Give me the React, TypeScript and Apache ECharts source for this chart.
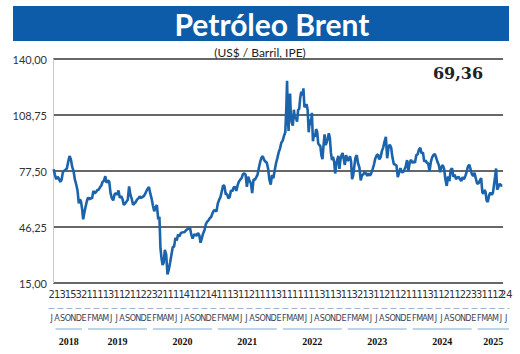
import React, { useEffect, useRef } from 'react';
import * as echarts from 'echarts';

// ---------- data ----------
const years = ['2018', '2019', '2020', '2021', '2022', '2023', '2024', '2025'];
const monthInitials = ['E', 'F', 'M', 'A', 'M', 'J', 'J', 'A', 'S', 'O', 'N', 'D'];
const firstMonth = 6; // July 2018
const lastMonth = 6; // July 2025
const dayDigits = [
  ...('2131532111131121122321111411214111311211' + '11311111113113113213112112111131121122331112').split(''),
  '24',
];
const yTicks = [15, 46.25, 77.5, 108.75, 140];
const title = 'Petróleo Brent';
const subtitle = '(US$ / Barril, IPE)';

// weekly-ish Brent closes, one inner array per month
const brent2018 = [
  [78.5, 75.2, 72.9, 74.3],
  [73.2, 71.4, 72.6, 77.0],
  [77.6, 78.2, 79.0, 82.7],
  [85.9, 84.1, 79.8, 77.6],
  [72.8, 70.1, 66.8, 59.5],
  [61.7, 60.3, 56.3, 50.5, 53.8],
];
const brent2019 = [
  [57.1, 60.5, 62.7, 61.6],
  [62.5, 62.1, 66.4, 65.0],
  [65.7, 66.9, 67.1, 68.4],
  [69.4, 71.5, 72.0, 74.6],
  [70.9, 72.3, 71.5, 65.0],
  [62.3, 61.1, 64.4, 65.2],
  [64.2, 66.7, 62.5, 63.5],
  [61.9, 58.6, 59.3, 60.4],
  [61.5, 68.9, 64.2, 61.9],
  [58.7, 59.4, 60.2, 61.5],
  [62.2, 63.3, 62.4, 63.0],
  [63.4, 64.5, 66.2, 67.6],
];
const brent2020 = [
  [68.6, 65.0, 62.1, 58.2],
  [55.0, 57.3, 58.5, 50.5],
  [51.9, 34.4, 28.7, 25.0, 26.3],
  [33.5, 31.0, 19.8, 22.5],
  [26.4, 30.9, 35.1, 35.3],
  [40.2, 38.7, 42.1, 41.0],
  [42.8, 43.2, 43.3, 43.5],
  [44.4, 45.0, 45.4, 45.8],
  [42.0, 39.8, 41.9, 42.1],
  [41.3, 42.9, 41.8, 37.5],
  [40.1, 42.8, 44.6, 47.9],
  [49.2, 50.0, 51.2, 51.8],
];
const brent2021 = [
  [53.9, 55.4, 55.6, 54.9],
  [59.3, 61.4, 62.9, 66.1],
  [69.4, 69.2, 64.5, 64.6],
  [62.2, 63.0, 66.8, 66.2],
  [68.3, 68.7, 66.4, 69.6],
  [71.6, 72.7, 73.5, 75.8],
  [76.2, 75.5, 68.6, 74.3],
  [72.0, 70.6, 65.2, 72.7],
  [72.6, 73.9, 75.3, 79.1],
  [82.4, 84.9, 85.8, 83.7],
  [82.7, 82.2, 78.9, 72.7],
  [69.9, 75.2, 73.5, 77.8],
];
const brent2022 = [
  [81.8, 84.7, 87.9, 90.0],
  [93.3, 94.4, 97.0, 99.1],
  [112.9, 127.9, 107.0, 99.9, 117.6, 120.7, 107.9],
  [104.4, 102.8, 111.7, 106.6, 107.1],
  [105.0, 111.6, 112.0, 118.4, 121.7],
  [119.7, 123.6, 113.1, 114.0, 114.8],
  [111.6, 99.1, 106.3, 103.2, 110.0],
  [94.1, 98.1, 96.7, 100.9, 99.3],
  [92.8, 92.0, 91.4, 86.2, 84.1],
  [91.8, 97.9, 92.0, 93.5, 95.8],
  [98.6, 95.9, 87.6, 83.6, 85.4],
  [82.7, 76.1, 81.0, 83.9, 85.9],
];
const brent2023 = [
  [78.7, 83.9, 86.2, 87.5, 84.5],
  [80.9, 86.4, 83.2, 83.9],
  [85.8, 82.8, 72.9, 75.0, 79.8],
  [84.9, 86.3, 81.7, 79.5],
  [72.3, 75.2, 75.6, 77.1],
  [76.1, 74.8, 76.1, 74.9],
  [76.3, 78.5, 81.1, 84.4],
  [86.2, 86.8, 84.0, 85.1],
  [88.6, 90.7, 93.9, 96.5],
  [84.6, 90.9, 92.2, 90.5],
  [85.0, 81.4, 81.0, 80.6],
  [74.1, 76.6, 79.1, 77.0],
];
const brent2024 = [
  [76.8, 78.3, 80.0, 83.6],
  [77.3, 82.2, 83.7, 82.0],
  [82.9, 82.1, 86.4, 86.8],
  [89.4, 90.5, 87.3, 87.9],
  [82.8, 83.4, 82.1, 81.6],
  [77.5, 82.6, 85.2, 86.4],
  [87.0, 85.0, 82.6, 80.9],
  [76.8, 79.7, 80.8, 78.8],
  [72.7, 69.2, 74.5, 71.8],
  [78.1, 79.0, 74.3, 75.5],
  [73.0, 73.9, 74.2, 72.9],
  [71.9, 74.0, 72.9, 74.6],
];
const brent2025 = [
  [76.9, 80.0, 81.0, 78.5],
  [75.7, 74.7, 76.5, 73.2],
  [70.4, 70.6, 72.2, 73.6],
  [65.6, 64.9, 66.9, 65.9, 61.1],
  [60.2, 64.0, 65.4, 64.2],
  [65.3, 69.8, 74.2, 78.9, 67.1],
  [68.5, 70.4, 69.4, 69.36],
];
const brentByYear = [brent2018, brent2019, brent2020, brent2021, brent2022, brent2023, brent2024, brent2025];

// ---------- derived ----------
const monthLabels: string[] = [];
const yearSpans: { start: number; count: number }[] = [];
years.forEach((_, yi) => {
  const s = yi === 0 ? firstMonth : 0;
  const e = yi === years.length - 1 ? lastMonth : 11;
  yearSpans.push({ start: monthLabels.length, count: e - s + 1 });
  for (let m = s; m <= e; m++) monthLabels.push(monthInitials[m]);
});
const totalMonths = monthLabels.length;
const monthKeys = monthLabels.map((_, i) => 'm' + i);

const lineData: [number, number][] = [];
let mi = 0;
brentByYear.forEach((yr) => {
  yr.forEach((month) => {
    month.forEach((v, k) => lineData.push([mi + (k + 0.5) / month.length, v]));
    mi++;
  });
});
const lastValue = lineData[lineData.length - 1][1];

const segs = yearSpans.map((s) => [s.start + 1.2, Math.min(s.start + s.count + 0.1, totalMonths)]);
const yearCenters = segs.map((s) => (s[0] + s[1]) / 2);

const fmt = (v: number) => v.toFixed(2).replace('.', ',');
const narrow = '"Liberation Sans Narrow", "DejaVu Sans Condensed", sans-serif';

const option: any = {
  animation: false,
  backgroundColor: '#ffffff',
  graphic: [
    { type: 'rect', shape: { x: 13, y: 6, width: 496, height: 35 }, style: { fill: '#0d5ca9' }, silent: true },
    {
      type: 'text',
      style: { text: title, x: 272, y: 24, fill: '#ffffff', font: 'bold 30px Lato', textAlign: 'center', textVerticalAlign: 'middle' },
    },
    {
      type: 'text',
      style: { text: subtitle, x: 260, y: 52, fill: '#222', font: '12px Lato', textAlign: 'center', textVerticalAlign: 'middle' },
    },
    {
      type: 'text',
      style: { text: fmt(lastValue), x: 458, y: 73, fill: '#222', font: 'bold 16px "DejaVu Serif"', textAlign: 'center', textVerticalAlign: 'middle' },
    },
  ],
  grid: [
    { left: 53, right: 17, top: 59, height: 224 },
    { left: 49, right: 11, top: 284, height: 1 },
    { left: 49, right: 11, top: 328, height: 2 },
  ],
  xAxis: [
    {
      type: 'value', gridIndex: 0, min: 0, max: totalMonths,
      axisLabel: { show: false }, axisTick: { show: false }, axisLine: { show: false }, splitLine: { show: false },
    },
    {
      type: 'category', gridIndex: 1, position: 'bottom', offset: 0, data: monthKeys, boundaryGap: true,
      axisLine: { show: false }, axisTick: { show: false },
      axisLabel: {
        interval: 0, margin: 4, fontSize: 11, color: '#333', fontFamily: narrow,
        formatter: (_: string, i: number) => dayDigits[i] ?? '',
      },
    },
    {
      type: 'category', gridIndex: 1, position: 'bottom', offset: 23, data: monthKeys, boundaryGap: true,
      axisLine: { show: true, lineStyle: { color: '#9fb4cc', width: 1, type: [5, 4] } },
      axisTick: { show: false },
      axisLabel: {
        interval: 0, margin: 5, fontSize: 9, color: '#3a4456', fontFamily: narrow,
        formatter: (_: string, i: number) => monthLabels[i] ?? '',
      },
    },
    {
      type: 'value', gridIndex: 1, position: 'bottom', offset: 23, min: 0, max: totalMonths,
      axisLine: { show: false }, axisTick: { show: false }, splitLine: { show: false },
      axisLabel: {
        customValues: yearCenters, margin: 28, fontSize: 10, fontWeight: 'bold', color: '#111',
        fontFamily: '"Liberation Serif", serif',
        formatter: (v: number) => {
          const i = yearCenters.findIndex((c) => Math.abs(c - v) < 1e-6);
          return i >= 0 ? years[i] : '';
        },
      },
    },
    {
      type: 'value', gridIndex: 2, min: 0, max: totalMonths, show: false,
    },
  ],
  yAxis: [
    {
      type: 'value', gridIndex: 0, min: yTicks[0], max: yTicks[yTicks.length - 1], interval: yTicks[1] - yTicks[0],
      axisLine: { show: true, lineStyle: { color: '#cccccc', width: 1 } },
      axisTick: { show: false },
      splitLine: { show: true, lineStyle: { color: '#333', width: 1.5 } },
      axisLabel: { margin: 6, fontSize: 11, color: '#333', fontFamily: 'Lato', formatter: fmt },
    },
    { type: 'value', gridIndex: 1, show: false },
    { type: 'value', gridIndex: 2, min: 0, max: 1, show: false },
  ],
  series: [
    {
      type: 'line', xAxisIndex: 0, yAxisIndex: 0, data: lineData, showSymbol: false, symbol: 'none',
      lineStyle: { color: '#1b64ac', width: 2.6 }, silent: true,
    },
    ...segs.map((s) => ({
      type: 'line', xAxisIndex: 4, yAxisIndex: 2, data: [[s[0], 0.5], [s[1], 0.5]], showSymbol: false, symbol: 'none',
      lineStyle: { color: '#a8c6e2', width: 1.5 }, silent: true,
    })),
  ],
};

export default function App() {
  const ref = useRef<HTMLDivElement>(null);
  useEffect(() => {
    const chart = echarts.init(ref.current!, null, { renderer: 'svg' });
    chart.setOption(option);
    return () => chart.dispose();
  }, []);
  return (
    <div
      ref={ref}
      style={{ position: 'absolute', left: 0, top: 0, width: 520, height: 354, background: '#fff' }}
    />
  );
}
